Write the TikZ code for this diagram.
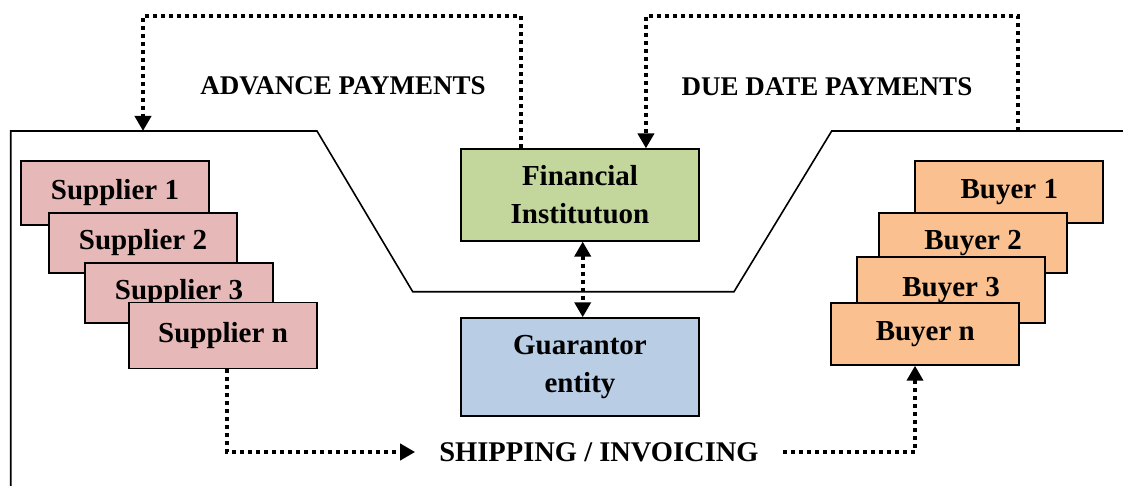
\documentclass[tikz,border=0pt]{standalone}
\usepackage{fontspec}
\setmainfont{Liberation Serif}
\usetikzlibrary{arrows.meta}

\definecolor{supfill}{HTML}{E6B8B7}
\definecolor{buyfill}{HTML}{FAC090}
\definecolor{finfill}{HTML}{C3D69B}
\definecolor{guafill}{HTML}{B9CDE5}

\begin{document}
\begin{tikzpicture}[x=1pt,y=-1pt,
  entity/.style={draw=black, line width=1.8pt, inner sep=0pt, align=center,
    font=\fontsize{29}{38}\selectfont\bfseries},
  supplier/.style={entity, fill=supfill, minimum width=188pt, minimum height=#1},
  buyer/.style={entity, fill=buyfill, minimum width=188pt, minimum height=#1},
  tip/.style={Triangle[width=16pt,length=15pt]},
  flow/.style={line width=4.2pt, dash pattern=on 4pt off 4pt, -{Triangle[width=16pt,length=15pt]}},
  flowtext/.style={font=\fontsize{27}{30}\selectfont\bfseries, inner sep=0pt}]

\useasboundingbox (0,0) rectangle (1123,486);

% market boundary
\draw[line width=1.6pt] (10.7,486) -- (10.7,131) -- (317,131) -- (412.7,291.7)
  -- (734,291.7) -- (831.7,131) -- (1123,131);

% suppliers (stacked, last one on top)
\node[supplier=64pt] (s1) at (115,193)   {Supplier 1};
\node[supplier=60pt] (s2) at (143,243)   {Supplier 2};
\node[supplier=60pt] (s3) at (179,292.8) {Supplier 3};
\node[supplier=66pt] (sn) at (223,335.5) {Supplier n};

% buyers (stacked, last one on top)
\node[buyer=62pt] (b1) at (1009.3,192.3) {Buyer 1};
\node[buyer=60pt] (b2) at (973,243.3)    {Buyer 2};
\node[buyer=66pt] (b3) at (951,289.8)    {Buyer 3};
\node[buyer=62pt] (bn) at (925.3,333.8)  {Buyer n};

% central parties
\node[entity, fill=finfill, minimum width=238.3pt, minimum height=91.4pt]
  (fi) at (580,195) {Financial\\Institutuon};
\node[entity, fill=guafill, minimum width=238.6pt, minimum height=97.7pt]
  (ga) at (580,367) {Guarantor\\entity};

% flow labels
\node[flowtext] (adv) at (343,86) {ADVANCE PAYMENTS};
\node[flowtext] (due) at (827,87) {DUE DATE PAYMENTS};
\node[flowtext, font=\fontsize{28.5}{30}\selectfont\bfseries, inner xsep=24pt]
  (ship) at (599,452) {SHIPPING / INVOICING};

% anchor points on the boundary
\coordinate (advtip) at (143,131);
\coordinate (duestart) at (1018,131);

% payment flows
\draw[flow] ([xshift=61pt]fi.north west) |- (143,16) -- (advtip);
\draw[flow] (duestart) -- (1018,16) -| ([xshift=186pt]fi.north west);
\draw[flow, {Triangle[width=16pt,length=15pt]}-{Triangle[width=16pt,length=15pt]}]
  ([xshift=2.7pt]fi.south) -- ([xshift=2.7pt]ga.north);

% goods and invoices
\draw[flow] ([xshift=3.7pt]sn.south) |- (ship.west);
\draw[flow] (ship.east) -| ([xshift=-10.3pt]bn.south);
\end{tikzpicture}
\end{document}
